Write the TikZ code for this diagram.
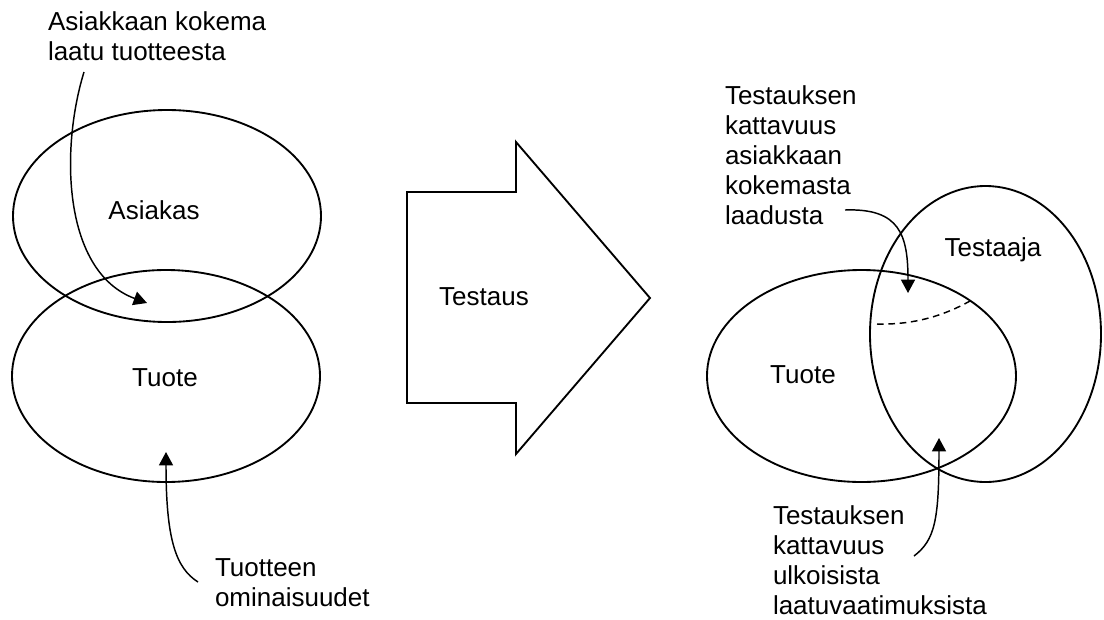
\documentclass[tikz,border=0pt]{standalone}
\usepackage{fontspec}
\setmainfont{Liberation Sans}
\usetikzlibrary{shapes.geometric,arrows.meta}
\begin{document}
\begin{tikzpicture}[x=0.75pt,y=-0.75pt,
  every node/.style={inner sep=0pt, outer sep=0pt,
    font=\fontsize{19.5pt}{22.5pt}\selectfont},
  blob/.style={draw, ellipse, line width=1.4pt, inner sep=0pt},
  lbl/.style={align=left, anchor=north west},
  word/.style={anchor=base},
  pointer/.style={line width=1.1pt, -{Triangle[length=10pt,width=10.5pt]}},
  boundary/.style={line width=1.1pt, dash pattern=on 5pt off 3.5pt}]

\useasboundingbox (0,0) rectangle (1104,619);

% ---- left: customer and product ----
\node[blob, minimum width=231pt, minimum height=159pt] (asiakas) at (167,216) {};
\node[blob, minimum width=231pt, minimum height=159pt] (tuoteL) at (166,376) {};
\node[word] (asiakasTxt) at (154,219) {Asiakas};
\node[word] (tuoteLTxt) at (165,386) {Tuote};

\node[lbl] (koettu) at (48,12) {Asiakkaan kokema\\laatu tuotteesta};
\node[lbl] (ominaisuudet) at (215,559) {Tuotteen\\ominaisuudet};

\coordinate (koettuStart) at (84,72);
\coordinate (koettuTip) at (147,303);
\coordinate (omStart) at (198,582);
\coordinate (omTip) at (166,452);

\draw[pointer] (koettuStart) .. controls (60,150) and (63,272) .. (koettuTip);
\draw[pointer] (omStart) .. controls (176,568) and (166,540) .. (omTip);

% ---- middle: block arrow ----
\draw[line width=1.4pt, line join=miter]
  (407,192) -- (516,192) -- (516,142) -- (650,298) -- (516,454)
  -- (516,403) -- (407,403) -- cycle;
\node[word] (testaus) at (484,305) {Testaus};

% ---- right: product and tester ----
\node[blob, minimum width=231.75pt, minimum height=159pt] (tuoteR) at (861.5,376) {};
\node[blob, minimum width=173.25pt, minimum height=222pt] (testaaja) at (985.5,334) {};
\node[word] (tuoteRTxt) at (803,383) {Tuote};
\node[word] (testaajaTxt) at (993,256) {Testaaja};

\node[lbl] (kattavuusA) at (725,86)
  {Testauksen\\kattavuus\\asiakkaan\\kokemasta\\laadusta};
\node[lbl] (kattavuusB) at (773,506)
  {Testauksen\\kattavuus\\ulkoisista\\laatuvaatimuksista};

\coordinate (dashL) at (877,324);
\coordinate (dashR) at (970,301);
\draw[boundary] (dashL) .. controls (915,325) and (945,315) .. (dashR);

\coordinate (kaStart) at (845,210);
\coordinate (kaTip) at (908,293);
\coordinate (kbStart) at (914,556);
\coordinate (kbTip) at (939,438);

\draw[pointer] (kaStart) .. controls (900,208) and (908,235) .. (kaTip);
\draw[pointer] (kbStart) .. controls (935,540) and (939,520) .. (kbTip);

\end{tikzpicture}
\end{document}
